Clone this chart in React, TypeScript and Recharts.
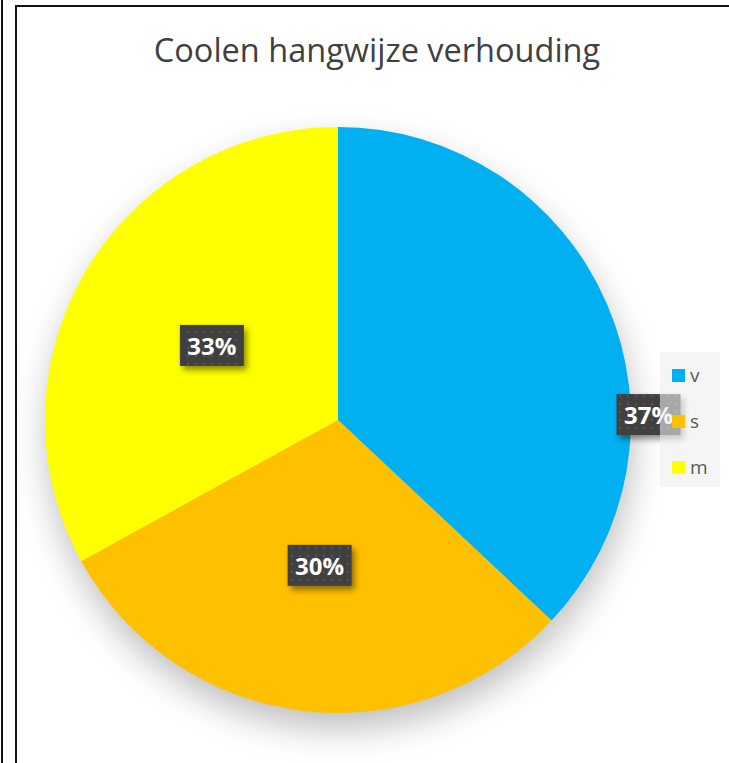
import { Cell, Legend, Pie, PieChart } from "recharts";

const categories = ["v", "s", "m"];
const shares = [37, 30, 33];
const colors = ["#00B0F0", "#FFC000", "#FFFF00"];

const data = categories.map((name, i) => ({ name, value: shares[i] }));

const RADIAN = Math.PI / 180;

// Excel had the first label dragged to the right edge of its slice
function renderLabel(props: any) {
  const { cx, cy, midAngle, outerRadius, percent, index } = props;
  let r = outerRadius * 0.5;
  let angle = midAngle;
  if (index === 0) {
    r = outerRadius * 1.06;
    angle = 1;
  }
  const x = cx + r * Math.cos(-angle * RADIAN);
  const y = cy + r * Math.sin(-angle * RADIAN);
  const w = 64;
  const h = 41;
  return (
    <g>
      <rect
        x={x - w / 2}
        y={y - h / 2}
        width={w}
        height={h}
        fill="#404040"
        filter="url(#labelShadow)"
      />
      <rect x={x - w / 2} y={y - h / 2} width={w} height={h} fill="url(#dots)" />
      <text
        x={x}
        y={y}
        fill="#ffffff"
        textAnchor="middle"
        dominantBaseline="central"
        fontFamily="'Open Sans', sans-serif"
        fontWeight={700}
        fontSize={24}
      >
        {`${Math.round(percent * 100)}%`}
      </text>
    </g>
  );
}

function LegendBox() {
  return (
    <div
      style={{
        width: 60,
        height: 135,
        background: "rgba(238,238,238,0.6)",
        paddingTop: 0,
        boxSizing: "border-box",
      }}
    >
      {data.map((d, i) => (
        <div
          key={d.name}
          style={{
            display: "flex",
            alignItems: "center",
            height: 46,
            paddingLeft: 12,
            fontFamily: "'Open Sans', sans-serif",
            fontSize: 19,
            color: "#595959",
            lineHeight: "19px",
          }}
        >
          <span
            style={{
              display: "inline-block",
              width: 13,
              height: 13,
              background: colors[i],
              marginRight: 5,
            }}
          />
          {d.name}
        </div>
      ))}
    </div>
  );
}

export default function App() {
  return (
    <div
      style={{
        position: "absolute",
        left: 0,
        top: 0,
        width: 729,
        height: 763,
        overflow: "hidden",
        background: "#ffffff",
      }}
    >
      <div
        style={{
          position: "absolute",
          left: 1,
          top: 0,
          width: 2,
          height: 763,
          background: "#111",
        }}
      />
      <div
        style={{
          position: "absolute",
          left: 15,
          top: 5,
          width: 760,
          height: 800,
          borderLeft: "2px solid #111",
          borderTop: "2px solid #111",
        }}
      />
      <div
        style={{
          position: "absolute",
          left: 17,
          top: 28,
          width: 720,
          textAlign: "center",
          fontFamily: "'Open Sans', sans-serif",
          fontSize: 32.5,
          lineHeight: "44px",
          color: "#404040",
        }}
      >
        Coolen hangwijze verhouding
      </div>
      <div style={{ position: "absolute", left: 0, top: 0 }}>
        <PieChart width={729} height={763} margin={{ top: 0, right: 0, bottom: 0, left: 0 }}>
          <defs>
            <filter id="pieShadow" x="-30%" y="-30%" width="160%" height="160%">
              <feGaussianBlur stdDeviation="17" />
              <feOffset dx="2" dy="16" />
            </filter>
            <filter id="labelShadow" x="-30%" y="-30%" width="160%" height="160%">
              <feDropShadow dx="3" dy="4" stdDeviation="3" floodColor="#000" floodOpacity="0.45" />
            </filter>
            <pattern id="dots" width="8" height="8" patternUnits="userSpaceOnUse">
              <circle cx="4" cy="4" r="1.2" fill="#555" />
            </pattern>
          </defs>
          <Pie
            data={data}
            dataKey="value"
            nameKey="name"
            cx={338}
            cy={420}
            outerRadius={293}
            startAngle={90}
            endAngle={-270}
            stroke="none"
            legendType="none"
            isAnimationActive={false}
          >
            {data.map((d) => (
              <Cell key={d.name} fill="rgba(0,0,0,0.25)" filter="url(#pieShadow)" />
            ))}
          </Pie>
          <Pie
            data={data}
            dataKey="value"
            nameKey="name"
            cx={338}
            cy={420}
            outerRadius={293}
            startAngle={90}
            endAngle={-270}
            stroke="none"
            label={renderLabel}
            labelLine={false}
            isAnimationActive={false}
          >
            {data.map((d, i) => (
              <Cell key={d.name} fill={colors[i]} />
            ))}
          </Pie>
          <Legend
            content={<LegendBox />}
            wrapperStyle={{ left: 660, top: 352, width: 60, height: 135 }}
          />
        </PieChart>
      </div>
    </div>
  );
}
